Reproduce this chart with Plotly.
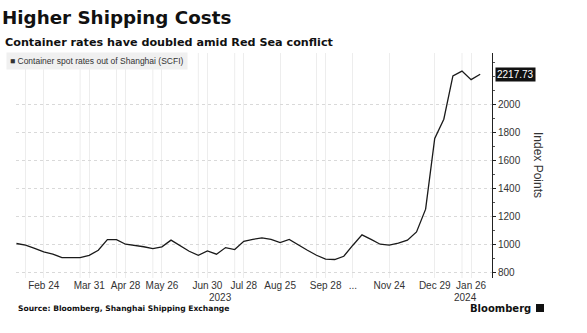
import plotly.graph_objects as go

# Weekly SCFI observations (Feb 2023 - Feb 2024); Oct 6 missing (Golden Week)
dates = [
    "2023-02-03", "2023-02-10", "2023-02-17", "2023-02-24", "2023-03-03", "2023-03-10",
    "2023-03-17", "2023-03-24", "2023-03-31", "2023-04-07", "2023-04-14", "2023-04-21",
    "2023-04-28", "2023-05-05", "2023-05-12", "2023-05-19", "2023-05-26", "2023-06-02",
    "2023-06-09", "2023-06-16", "2023-06-21", "2023-06-30", "2023-07-07", "2023-07-14",
    "2023-07-21", "2023-07-28", "2023-08-04", "2023-08-11", "2023-08-18", "2023-08-25",
    "2023-09-01", "2023-09-08", "2023-09-15", "2023-09-22", "2023-09-28", "2023-10-13",
    "2023-10-20", "2023-10-27", "2023-11-03", "2023-11-10", "2023-11-17", "2023-11-24",
    "2023-12-01", "2023-12-08", "2023-12-15", "2023-12-22", "2023-12-29", "2024-01-05",
    "2024-01-12", "2024-01-19", "2024-01-26", "2024-02-02",
]
scfi = [
    1010, 998, 975, 950, 935, 910,
    910, 910, 926, 962, 1038, 1038,
    1005, 998, 987, 974, 986, 1034,
    993, 955, 926, 957, 934, 981,
    967, 1026, 1040, 1050, 1039, 1017,
    1039, 998, 962, 926, 898, 896,
    919, 998, 1072, 1040, 1005, 998,
    1012, 1034, 1093, 1255, 1760, 1897,
    2206, 2240, 2179, 2217.73,
]

tick_dates = ["2023-02-24", "2023-03-31", "2023-04-28", "2023-05-26", "2023-06-30",
              "2023-07-28", "2023-08-25", "2023-09-28", "2023-10-27", "2023-11-24",
              "2023-12-29", "2024-01-26"]
tick_labels = ["Feb 24", "Mar 31", "Apr 28", "May 26", "Jun 30", "Jul 28", "Aug 25",
               "Sep 28", "...", "Nov 24", "Dec 29", "Jan 26"]
extra_grid_dates = ["2023-02-10", "2023-03-24", "2023-04-21", "2023-05-19", "2023-06-21",
                    "2023-07-21", "2023-09-22", "2024-01-19"]
y_ticks = [800, 1000, 1200, 1400, 1600, 1800, 2000]

fig = go.Figure()
fig.add_trace(go.Scatter(
    x=dates, y=scfi, mode="lines",
    line=dict(color="#1a1a1a", width=1.3),
    name="Container spot rates out of Shanghai (SCFI)",
    showlegend=False, hoverinfo="skip",
))

shapes = []
for d in extra_grid_dates:
    shapes.append(dict(type="line", xref="x", yref="paper", x0=d, x1=d, y0=0, y1=1,
                       line=dict(color="#ededed", width=1), layer="below"))

fig.update_layout(
    width=587, height=333,
    margin=dict(l=16, r=95, t=53, b=55),
    paper_bgcolor="white", plot_bgcolor="white",
    shapes=shapes,
    xaxis=dict(
        type="category", categoryorder="array", categoryarray=dates,
        range=[-0.05, 52.3],
        tickmode="array", tickvals=tick_dates, ticktext=tick_labels,
        showgrid=True, gridcolor="#ededed", gridwidth=1,
        showline=False, ticks="", zeroline=False,
        tickfont=dict(family="Liberation Sans", size=10, color="#333333"),
    ),
    yaxis=dict(
        side="right", range=[764, 2369],
        tickmode="array", tickvals=y_ticks,
        showgrid=True, gridcolor="#d9d9d9", griddash="dot", gridwidth=1,
        showline=True, linecolor="#222222", linewidth=1,
        ticks="outside", ticklen=3, tickcolor="#222222",
        minor=dict(dtick=100, ticks="outside", ticklen=2, tickcolor="#555555", showgrid=False),
        zeroline=False,
        tickfont=dict(family="Liberation Sans", size=10, color="#333333"),
    ),
)

ann = [
    dict(text="<b>Higher Shipping Costs</b>", xref="paper", yref="paper",
         x=-16/476, y=1 + (53-17)/225, xanchor="left", yanchor="middle", showarrow=False,
         font=dict(family="DejaVu Sans", size=18.3, color="#111111")),
    dict(text="<b>Container rates have doubled amid Red Sea conflict</b>", xref="paper", yref="paper",
         x=-13/476, y=1 + (53-43)/225, xanchor="left", yanchor="middle", showarrow=False,
         font=dict(family="DejaVu Sans", size=11.2, color="#111111")),
    dict(text="■ Container spot rates out of Shanghai (SCFI)", xref="paper", yref="paper",
         x=-10/476, y=1 + (53-61)/225, xanchor="left", yanchor="middle", showarrow=False,
         bgcolor="#f0f0f0", borderpad=3,
         font=dict(family="Liberation Sans", size=8.5, color="#333333")),
    dict(text="Index Points", xref="paper", yref="paper", x=(538-16)/476, y=(278-165)/225,
         textangle=90, showarrow=False, xanchor="center", yanchor="middle",
         font=dict(family="Liberation Sans", size=12, color="#333333")),
    dict(text="2217.73", xref="paper", yref="y", x=1, y=scfi[-1], xanchor="left",
         yanchor="middle", xshift=3, showarrow=False, bgcolor="#111111", borderpad=1,
         font=dict(family="Liberation Sans", size=10, color="white")),
    dict(text="2023", xref="paper", yref="paper", x=(220-16)/476, y=-(297-278)/225,
         xanchor="center", yanchor="middle", showarrow=False,
         font=dict(family="Liberation Sans", size=10, color="#333333")),
    dict(text="2024", xref="paper", yref="paper", x=(465-16)/476, y=-(297-278)/225,
         xanchor="center", yanchor="middle", showarrow=False,
         font=dict(family="Liberation Sans", size=10, color="#333333")),
    dict(text="<b>Source: Bloomberg, Shanghai Shipping Exchange</b>", xref="paper", yref="paper",
         x=0, y=-(308-278)/225, xanchor="left", yanchor="middle", showarrow=False,
         font=dict(family="DejaVu Sans", size=7.6, color="#111111")),
    dict(text="<b>Bloomberg</b>", xref="paper", yref="paper",
         x=(533-16)/476, y=-(308-278)/225, xanchor="right", yanchor="middle", showarrow=False,
         font=dict(family="DejaVu Sans", size=10, color="#111111")),
]
fig.update_layout(annotations=ann)
fig.add_shape(type="rect", xref="paper", yref="paper",
              x0=(536-16)/476, x1=(544-16)/476, y0=-(312-278)/225, y1=-(304-278)/225,
              fillcolor="#111111", line=dict(width=0))

fig.write_html("out.html")
